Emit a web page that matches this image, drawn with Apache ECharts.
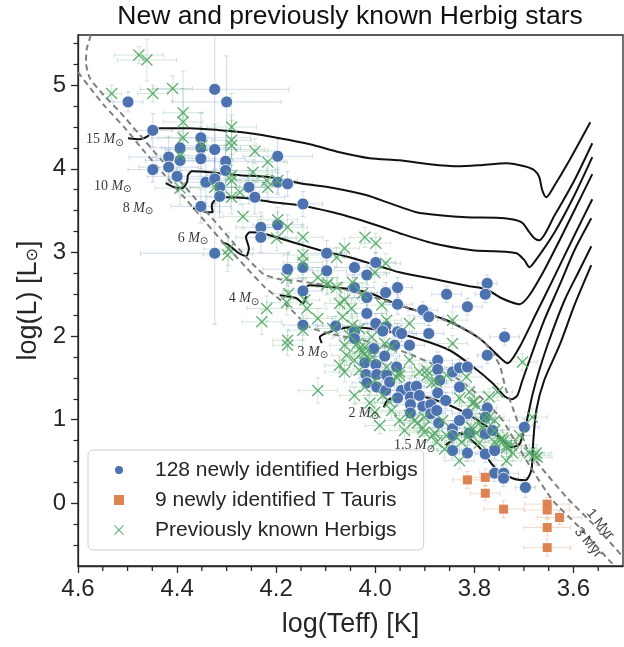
<!DOCTYPE html>
<html>
<head>
<meta charset="utf-8">
<script src="https://cdn.jsdelivr.net/npm/echarts@6/dist/echarts.min.js"></script>
<style>
  html, body { margin: 0; padding: 0; background: #fff; }
  #chart { width: 624px; height: 647px; }
</style>
</head>
<body>
<div id="chart"></div>
<script>
// tick positions
var xTicks = [3.6, 3.8, 4.0, 4.2, 4.4, 4.6];
var xMinorTicks = [3.55, 3.65, 3.7, 3.75, 3.85, 3.9, 3.95, 4.05, 4.1, 4.15, 4.25, 4.3, 4.35, 4.45, 4.5, 4.55];
var yTicks = [0, 1, 2, 3, 4, 5];
var yMinorTicks = [-0.5, -0.25, 0.25, 0.5, 0.75, 1.25, 1.5, 1.75, 2.25, 2.5, 2.75, 3.25, 3.5, 3.75, 4.25, 4.5, 4.75, 5.25, 5.5];

// [logTeff, logL, err logTeff, err logL]
var newHerbigs = [
  [4.499, 4.80, 0.03, 0.12], [4.324, 4.95, 0.15, 0.95], [4.300, 4.80, 0.11, 0.55], [4.449, 4.46, 0.04, 0.20],
  [4.352, 4.37, 0.10, 0.30], [4.352, 4.25, 0.08, 0.25], [4.324, 4.23, 0.10, 0.30], [4.394, 4.25, 0.06, 0.20],
  [4.417, 4.14, 0.08, 0.25], [4.394, 4.10, 0.07, 0.20], [4.352, 4.12, 0.09, 0.30], [4.302, 4.09, 0.12, 0.35],
  [4.302, 3.98, 0.10, 0.30], [4.449, 3.99, 0.05, 0.15], [4.417, 4.02, 0.06, 0.20], [4.400, 3.91, 0.06, 0.20],
  [4.197, 4.15, 0.07, 0.20], [4.342, 3.84, 0.08, 0.25], [4.324, 3.88, 0.09, 0.30], [4.314, 3.78, 0.09, 0.30],
  [4.314, 3.67, 0.08, 0.25], [4.255, 3.78, 0.06, 0.20], [4.243, 3.66, 0.06, 0.20], [4.197, 3.84, 0.05, 0.15],
  [4.177, 3.82, 0.05, 0.15], [4.352, 3.55, 0.06, 0.20], [4.146, 3.58, 0.04, 0.15], [4.231, 3.30, 0.05, 0.18],
  [4.231, 3.18, 0.05, 0.18], [4.197, 3.33, 0.05, 0.15], [4.324, 2.99, 0.15, 0.85], [4.177, 2.80, 0.05, 0.20],
  [4.146, 2.82, 0.04, 0.15], [4.098, 2.99, 0.04, 0.15], [4.098, 2.78, 0.04, 0.12], [4.042, 2.82, 0.04, 0.12],
  [3.999, 2.88, 0.04, 0.12], [4.017, 2.73, 0.04, 0.12], [3.955, 2.58, 0.03, 0.12], [3.979, 2.52, 0.03, 0.12],
  [4.042, 2.58, 0.04, 0.12], [4.146, 2.54, 0.04, 0.15], [3.856, 2.50, 0.03, 0.10], [3.774, 2.63, 0.02, 0.10],
  [3.778, 2.50, 0.02, 0.10], [3.814, 2.35, 0.03, 0.10], [3.955, 2.38, 0.03, 0.12], [4.017, 2.46, 0.04, 0.12],
  [3.904, 2.31, 0.03, 0.10], [3.892, 2.23, 0.03, 0.10], [4.017, 2.27, 0.04, 0.12], [4.146, 2.13, 0.04, 0.12],
  [4.080, 2.12, 0.04, 0.12], [4.042, 2.05, 0.03, 0.12], [3.999, 2.15, 0.03, 0.12], [3.979, 2.11, 0.03, 0.10],
  [3.985, 2.06, 0.03, 0.10], [3.955, 2.05, 0.03, 0.10], [3.892, 2.03, 0.03, 0.10], [4.042, 1.97, 0.03, 0.10],
  [3.931, 1.89, 0.03, 0.10], [3.739, 1.99, 0.03, 0.10], [3.774, 1.77, 0.02, 0.10], [3.874, 1.71, 0.03, 0.10],
  [3.874, 1.60, 0.03, 0.09], [3.844, 1.57, 0.03, 0.10], [3.830, 1.62, 0.03, 0.10], [3.814, 1.63, 0.03, 0.10],
  [4.003, 1.85, 0.03, 0.10], [3.981, 1.76, 0.03, 0.10], [4.021, 1.68, 0.03, 0.10], [3.999, 1.66, 0.03, 0.10],
  [3.957, 1.63, 0.03, 0.10], [4.019, 1.54, 0.03, 0.10], [3.997, 1.54, 0.03, 0.10], [3.977, 1.53, 0.03, 0.10],
  [4.017, 1.44, 0.03, 0.10], [3.997, 1.39, 0.03, 0.10], [3.979, 1.35, 0.03, 0.10], [3.947, 1.35, 0.03, 0.10],
  [3.931, 1.39, 0.03, 0.10], [3.917, 1.40, 0.03, 0.10], [3.830, 1.39, 0.03, 0.10], [3.874, 1.32, 0.03, 0.10],
  [3.929, 1.27, 0.03, 0.10], [3.929, 1.18, 0.03, 0.10], [3.929, 1.08, 0.03, 0.10], [3.904, 1.16, 0.03, 0.10],
  [3.888, 1.18, 0.03, 0.10], [3.888, 1.07, 0.03, 0.10], [3.876, 1.11, 0.03, 0.10], [3.872, 0.96, 0.03, 0.10],
  [3.814, 1.07, 0.03, 0.10], [3.774, 1.14, 0.02, 0.10], [3.778, 1.03, 0.02, 0.10], [3.699, 0.91, 0.03, 0.10],
  [3.844, 0.89, 0.03, 0.10], [3.844, 0.81, 0.03, 0.10], [3.778, 0.83, 0.02, 0.10], [3.763, 0.87, 0.02, 0.10],
  [3.844, 0.63, 0.03, 0.10], [3.814, 0.60, 0.03, 0.10], [3.778, 0.59, 0.02, 0.10], [3.759, 0.63, 0.02, 0.10],
  [3.759, 0.36, 0.03, 0.10], [3.741, 0.36, 0.03, 0.10], [3.741, 0.30, 0.03, 0.10], [3.697, 0.19, 0.02, 0.12],
  [3.947, 2.03, 0.03, 0.10], [3.971, 1.45, 0.03, 0.10], [3.955, 1.26, 0.03, 0.10], [3.911, 1.29, 0.03, 0.10],
  [3.858, 1.23, 0.03, 0.10], [3.830, 0.99, 0.03, 0.10], [3.810, 0.84, 0.03, 0.10], [3.870, 1.47, 0.03, 0.10],
  [3.961, 1.89, 0.03, 0.10]
];

var newTTauris = [
  [3.814, 0.28, 0.03, 0.10], [3.778, 0.31, 0.03, 0.10], [3.778, 0.12, 0.03, 0.09],
  [3.741, -0.07, 0.04, 0.10], [3.653, -0.01, 0.045, 0.08], [3.653, -0.08, 0.045, 0.10],
  [3.628, -0.17, 0.045, 0.08], [3.653, -0.29, 0.047, 0.10], [3.653, -0.53, 0.047, 0.10]
];

var knownHerbigs = [
  [4.477, 5.36, 0.05, 0.10], [4.461, 5.30, 0.06, 0.25], [4.532, 4.90, 0.02, 0.10], [4.449, 4.90, 0.03, 0.10],
  [4.409, 4.96, 0.04, 0.15], [4.388, 4.67, 0.04, 0.50], [4.388, 4.56, 0.04, 0.40], [4.388, 4.37, 0.05, 0.30],
  [4.350, 4.28, 0.05, 0.20], [4.394, 4.16, 0.05, 0.20], [4.290, 4.50, 0.05, 0.40], [4.290, 4.34, 0.04, 0.30],
  [4.290, 4.28, 0.05, 0.30], [4.243, 4.21, 0.04, 0.15], [4.217, 4.08, 0.04, 0.15], [4.290, 3.92, 0.05, 0.25],
  [4.290, 3.86, 0.05, 0.25], [4.247, 3.96, 0.04, 0.15], [4.219, 3.86, 0.04, 0.15], [4.197, 3.86, 0.04, 0.15],
  [4.217, 3.78, 0.04, 0.15], [4.324, 3.78, 0.05, 0.20], [4.394, 3.77, 0.05, 0.20], [4.273, 3.72, 0.04, 0.15],
  [4.290, 3.66, 0.05, 0.20], [4.267, 3.43, 0.04, 0.15], [4.197, 3.39, 0.04, 0.15], [4.177, 3.30, 0.04, 0.15],
  [4.199, 3.17, 0.04, 0.15], [4.296, 3.04, 0.05, 0.20], [4.298, 2.97, 0.05, 0.20], [4.146, 3.18, 0.04, 0.15],
  [4.146, 2.97, 0.04, 0.15], [4.146, 2.88, 0.04, 0.15], [4.062, 3.05, 0.03, 0.12], [4.078, 2.94, 0.03, 0.12],
  [4.021, 3.18, 0.03, 0.12], [3.999, 3.11, 0.03, 0.12], [3.979, 2.87, 0.03, 0.12], [4.116, 2.70, 0.04, 0.12],
  [4.001, 2.76, 0.03, 0.12], [4.179, 2.69, 0.04, 0.15], [4.096, 2.63, 0.03, 0.12], [4.179, 2.40, 0.04, 0.15],
  [4.138, 2.33, 0.04, 0.12], [4.219, 2.33, 0.04, 0.15], [4.229, 2.17, 0.04, 0.15], [4.146, 2.07, 0.03, 0.12],
  [4.116, 2.21, 0.03, 0.12], [4.177, 1.95, 0.03, 0.12], [4.177, 1.89, 0.03, 0.12], [4.116, 1.35, 0.04, 0.15],
  [4.142, 2.43, 0.03, 0.12], [4.175, 2.51, 0.03, 0.12], [4.062, 2.43, 0.03, 0.12], [4.048, 2.33, 0.03, 0.12],
  [4.046, 2.13, 0.03, 0.12], [4.058, 1.77, 0.03, 0.12], [4.062, 1.57, 0.04, 0.12], [4.032, 1.85, 0.03, 0.10],
  [4.026, 1.81, 0.02, 0.10], [4.017, 1.75, 0.03, 0.10], [4.005, 1.75, 0.03, 0.08], [4.007, 1.99, 0.03, 0.10],
  [3.987, 2.37, 0.03, 0.10], [4.078, 2.58, 0.03, 0.12], [3.977, 2.19, 0.03, 0.10], [3.967, 1.87, 0.03, 0.10],
  [3.977, 1.63, 0.02, 0.10], [4.098, 2.61, 0.03, 0.12], [4.046, 2.64, 0.03, 0.12], [4.026, 2.51, 0.03, 0.12],
  [4.072, 2.39, 0.03, 0.12], [4.066, 2.23, 0.03, 0.12], [4.086, 2.09, 0.03, 0.12], [4.032, 2.09, 0.03, 0.10],
  [4.036, 1.91, 0.03, 0.10], [3.981, 1.91, 0.03, 0.10], [4.021, 1.87, 0.02, 0.10], [4.021, 1.79, 0.03, 0.08],
  [3.951, 1.57, 0.03, 0.10], [3.951, 1.53, 0.03, 0.10], [4.032, 1.59, 0.04, 0.10], [4.021, 1.39, 0.03, 0.10],
  [3.985, 1.29, 0.03, 0.10], [4.011, 1.20, 0.03, 0.10], [4.001, 1.09, 0.03, 0.12], [3.971, 1.21, 0.03, 0.10],
  [3.931, 1.71, 0.03, 0.10], [3.896, 1.59, 0.03, 0.10], [3.886, 1.44, 0.03, 0.10], [3.856, 1.53, 0.03, 0.10],
  [3.830, 1.26, 0.03, 0.10], [3.810, 1.33, 0.03, 0.10], [3.800, 1.21, 0.03, 0.10], [3.780, 1.02, 0.03, 0.10],
  [3.806, 0.91, 0.03, 0.10], [3.796, 0.84, 0.03, 0.10], [3.814, 0.79, 0.03, 0.10], [3.759, 0.87, 0.03, 0.10],
  [3.749, 0.75, 0.03, 0.10], [3.735, 0.69, 0.03, 0.10], [3.723, 0.60, 0.03, 0.10], [3.844, 2.19, 0.03, 0.10],
  [3.844, 1.91, 0.03, 0.10], [3.957, 1.51, 0.03, 0.10], [3.901, 1.03, 0.03, 0.10], [3.864, 0.99, 0.03, 0.10],
  [3.856, 0.81, 0.03, 0.10], [3.876, 0.73, 0.03, 0.10], [3.884, 0.81, 0.03, 0.10], [3.826, 0.73, 0.03, 0.10],
  [3.683, 1.03, 0.03, 0.10], [3.703, 1.69, 0.03, 0.10], [3.675, 0.60, 0.03, 0.10], [3.904, 0.90, 0.03, 0.10],
  [3.921, 0.99, 0.03, 0.10], [3.931, 1.05, 0.03, 0.10], [3.931, 2.15, 0.03, 0.10], [3.911, 1.57, 0.03, 0.10],
  [3.895, 1.53, 0.03, 0.10], [3.876, 1.45, 0.03, 0.10], [3.816, 1.51, 0.03, 0.10], [3.770, 1.27, 0.03, 0.10],
  [3.804, 1.20, 0.03, 0.10], [3.759, 0.99, 0.03, 0.10], [3.790, 0.96, 0.03, 0.10], [3.810, 0.85, 0.03, 0.10],
  [3.741, 0.75, 0.03, 0.10], [3.689, 0.60, 0.03, 0.10], [3.836, 0.79, 0.03, 0.10], [3.915, 0.96, 0.03, 0.10],
  [3.901, 0.85, 0.03, 0.10], [3.880, 0.84, 0.03, 0.10], [3.830, 0.51, 0.03, 0.10], [3.860, 0.65, 0.03, 0.10],
  [3.735, 0.51, 0.03, 0.10], [3.735, 0.66, 0.03, 0.10], [3.759, 0.73, 0.03, 0.10], [3.679, 0.57, 0.03, 0.10],
  [3.790, 0.72, 0.03, 0.10], [3.709, 0.81, 0.03, 0.10], [3.753, 1.33, 0.03, 0.10], [3.673, 0.55, 0.03, 0.10],
  [3.770, 1.03, 0.03, 0.10], [3.784, 0.90, 0.03, 0.10], [3.743, 0.78, 0.03, 0.10], [3.725, 0.69, 0.03, 0.10],
  [3.796, 1.17, 0.03, 0.10], [4.052, 2.01, 0.03, 0.10], [4.062, 1.89, 0.03, 0.10], [4.042, 1.71, 0.03, 0.10],
  [4.072, 1.65, 0.03, 0.10], [4.001, 1.47, 0.03, 0.10], [4.042, 1.29, 0.03, 0.10], [3.967, 1.11, 0.03, 0.10],
  [3.951, 0.99, 0.03, 0.10], [3.941, 0.87, 0.03, 0.10], [3.991, 0.93, 0.03, 0.10]
];

// evolutionary tracks [logTeff, logL]
var track15 = [[3.566,4.557],[3.608,4.103],[3.638,3.804],[3.655,3.660],[3.663,3.744],[3.669,3.899],[3.679,3.983],[3.699,4.031],[3.735,4.067],[3.790,4.043],[3.830,4.031],[3.890,4.055],[3.951,4.103],[4.011,4.127],[4.072,4.199],[4.132,4.294],[4.193,4.366],[4.253,4.426],[4.314,4.462],[4.374,4.486],[4.435,4.486],[4.449,4.462],[4.459,4.390],[4.475,4.354],[4.499,4.366]];
var track10 = [[3.562,4.306],[3.598,3.864],[3.638,3.445],[3.669,3.146],[3.679,3.170],[3.689,3.242],[3.705,3.361],[3.739,3.409],[3.816,3.421],[3.870,3.445],[3.917,3.481],[3.971,3.589],[4.017,3.684],[4.082,3.768],[4.152,3.828],[4.213,3.900],[4.273,3.924],[4.334,3.959],[4.370,3.971],[4.378,3.924],[4.380,3.840],[4.390,3.768],[4.406,3.780],[4.423,3.828]];
var track8 = [[3.562,4.139],[3.598,3.684],[3.638,3.242],[3.679,2.883],[3.689,2.823],[3.699,2.907],[3.715,2.990],[3.759,3.014],[3.804,3.026],[3.884,3.110],[3.951,3.230],[3.985,3.301],[4.042,3.409],[4.086,3.481],[4.152,3.565],[4.207,3.600],[4.259,3.648],[4.310,3.660],[4.326,3.612],[4.330,3.553],[4.328,3.481],[4.340,3.481],[4.354,3.505],[4.368,3.529]];
var track6 = [[3.562,3.936],[3.598,3.505],[3.628,3.146],[3.659,2.787],[3.689,2.488],[3.709,2.380],[3.725,2.404],[3.749,2.464],[3.776,2.560],[3.810,2.596],[3.870,2.668],[3.951,2.763],[3.985,2.823],[4.052,2.943],[4.112,3.026],[4.173,3.134],[4.229,3.230],[4.253,3.242],[4.261,3.182],[4.255,3.050],[4.261,2.955],[4.278,3.002],[4.298,3.098],[4.310,3.122]];
var track4 = [[3.562,3.636],[3.598,3.206],[3.642,2.668],[3.675,2.273],[3.709,1.866],[3.733,1.675],[3.749,1.746],[3.790,1.974],[3.856,2.189],[3.951,2.369],[4.017,2.524],[4.086,2.584],[4.132,2.608],[4.142,2.572],[4.140,2.476],[4.146,2.392],[4.159,2.452],[4.179,2.476],[4.193,2.488]];
var track3 = [[3.564,3.409],[3.598,3.026],[3.628,2.608],[3.659,2.189],[3.685,1.770],[3.703,1.471],[3.713,1.292],[3.725,1.244],[3.739,1.280],[3.763,1.435],[3.804,1.639],[3.850,1.830],[3.917,1.974],[3.985,2.069],[4.052,2.105],[4.080,2.069],[4.100,2.033],[4.112,1.986],[4.108,1.914]];
var track2 = [[3.564,3.074],[3.588,2.787],[3.618,2.428],[3.649,1.950],[3.669,1.591],[3.683,1.292],[3.693,1.017],[3.701,0.849],[3.709,0.706],[3.725,0.670],[3.749,0.789],[3.776,0.921],[3.810,1.053],[3.850,1.172],[3.890,1.256],[3.931,1.304],[3.955,1.280],[3.975,1.232],[3.983,1.148]];
var track1p5 = [[3.564,2.847],[3.598,2.369],[3.628,1.890],[3.659,1.471],[3.675,1.113],[3.681,0.754],[3.685,0.395],[3.697,0.275],[3.723,0.299],[3.759,0.431],[3.790,0.670],[3.830,0.837],[3.846,0.754],[3.858,0.694]];

// isochrones
var iso1Myr = [[4.574,5.598],[4.582,5.443],[4.584,5.275],[4.576,5.084],[4.548,4.880],[4.515,4.677],[4.473,4.390],[4.433,4.115],[4.392,3.840],[4.352,3.565],[4.312,3.290],[4.273,3.026],[4.245,2.847],[4.225,2.739],[4.193,2.680],[4.152,2.656],[4.092,2.596],[4.032,2.512],[3.951,2.369],[3.870,2.213],[3.810,2.057],[3.774,1.890],[3.749,1.651],[3.737,1.376],[3.723,1.148],[3.709,0.909],[3.695,0.670],[3.669,0.455],[3.614,0.072],[3.554,-0.287],[3.501,-0.634]];
var iso3Myr = [[4.600,5.156],[4.572,4.940],[4.546,4.749],[4.505,4.486],[4.465,4.199],[4.425,3.924],[4.384,3.648],[4.344,3.373],[4.304,3.098],[4.263,2.835],[4.223,2.584],[4.179,2.369],[4.132,2.105],[4.086,2.022],[4.017,1.938],[3.951,1.830],[3.870,1.627],[3.816,1.412],[3.776,1.208],[3.743,0.993],[3.719,0.754],[3.689,0.455],[3.642,0.036],[3.588,-0.287],[3.528,-0.682],[3.515,-0.754]];

var massLabels = [[4.546,4.35,'15'],[4.530,3.79,'10'],[4.479,3.53,'8'],[4.368,3.17,'6'],[4.265,2.45,'4'],[4.126,1.81,'3'],[4.023,1.08,'2'],[3.921,0.69,'1.5']];
var ageLabels = [[3.546,-0.25,'1 Myr'],[3.570,-0.47,'3 Myr']];

var myChart = echarts.init(document.getElementById('chart'));
var font = 'Liberation Sans, Arial, sans-serif';
var dark = '#262626';
var crossPath = 'path://M0,1L1,0L6,5L11,0L12,1L7,6L12,11L11,12L6,7L1,12L0,11L5,6Z';
var yMin = -0.75, yMax = 5.6;

// error bars with little caps
function errorBars(data, color) {
    return {
        type: 'custom',
        data: data,
        encode: { x: 0, y: 1 },
        clip: true,
        silent: true,
        z: 1,
        renderItem: function (params, api) {
            var x = api.value(0), y = api.value(1), ex = api.value(2), ey = api.value(3);
            var c = api.coord([x, y]);
            var a = api.coord([x + ex, y]);
            var b = api.coord([x - ex, y]);
            var t = api.coord([x, y + ey]);
            var d = api.coord([x, y - ey]);
            var cap = 2.5;
            var st = { stroke: color, lineWidth: 1 };
            function seg(x1, y1, x2, y2) {
                return { type: 'line', shape: { x1: x1, y1: y1, x2: x2, y2: y2 }, style: st };
            }
            return {
                type: 'group',
                children: [
                    seg(a[0], c[1], b[0], c[1]),
                    seg(c[0], t[1], c[0], d[1]),
                    seg(a[0], c[1] - cap, a[0], c[1] + cap),
                    seg(b[0], c[1] - cap, b[0], c[1] + cap),
                    seg(c[0] - cap, t[1], c[0] + cap, t[1]),
                    seg(c[0] - cap, d[1], c[0] + cap, d[1])
                ]
            };
        }
    };
}

function trackLine(data) {
    return {
        type: 'line', data: data, showSymbol: false, smooth: 0.25, silent: true, z: 2,
        lineStyle: { color: '#111', width: 2 }
    };
}
function isoLine(data) {
    return {
        type: 'line', data: data, showSymbol: false, smooth: 0.2, silent: true, z: 2,
        lineStyle: { color: '#808080', width: 2, type: [6, 4] }
    };
}
function xy(d) { return [d[0], d[1]]; }

var option = {
    animation: false,
    title: {
        text: 'New and previously known Herbig stars',
        left: 350, top: 3, textAlign: 'center', padding: 0,
        textStyle: { fontFamily: font, fontSize: 26.5, fontWeight: 'normal', color: '#111' }
    },
    grid: {
        left: 78, right: 1, top: 35, bottom: 81,
        show: true, borderColor: dark, borderWidth: 1.3, backgroundColor: 'transparent'
    },
    legend: {
        orient: 'vertical', left: 88, top: 450,
        padding: [8, 6, 8, 25], itemGap: 6, itemWidth: 10, itemHeight: 10,
        backgroundColor: 'rgba(255,255,255,0.85)', borderColor: '#d0d0d0', borderWidth: 1, borderRadius: 5,
        textStyle: { fontFamily: font, fontSize: 21, color: dark, lineHeight: 24, padding: [0, 0, 0, 26] },
        data: [
            { name: '128 newly identified Herbigs', icon: 'circle' },
            { name: '9 newly identified T Tauris', icon: 'rect' },
            { name: 'Previously known Herbigs', icon: crossPath }
        ]
    },
    xAxis: {
        type: 'value', min: 3.5, max: 4.6, inverse: true,
        name: 'log(Teff) [K]', nameLocation: 'middle', nameGap: 45,
        nameTextStyle: { fontFamily: font, fontSize: 27, color: dark },
        axisLine: { show: true, onZero: false, lineStyle: { color: dark, width: 1.3 } },
        axisTick: { show: true, customValues: xTicks, length: 7, lineStyle: { color: dark, width: 1.3 } },
        axisLabel: { customValues: xTicks, margin: 11, fontFamily: font, fontSize: 24, color: dark,
            formatter: function (v) { return v.toFixed(1); } },
        splitLine: { show: false }
    },
    yAxis: [{
        type: 'value', min: yMin, max: yMax,
        name: 'log(L) [L{s|⊙}]', nameLocation: 'middle', nameGap: 36,
        nameTextStyle: { fontFamily: font, fontSize: 27, color: dark,
            rich: { s: { fontFamily: 'DejaVu Sans', fontSize: 16, color: dark, padding: [10, 0, 0, 0] } } },
        axisLine: { show: true, onZero: false, lineStyle: { color: dark, width: 1.3 } },
        axisTick: { show: true, customValues: yTicks, length: 7, lineStyle: { color: dark, width: 1.3 } },
        axisLabel: { customValues: yTicks, margin: 12, fontFamily: font, fontSize: 24, color: dark },
        splitLine: { show: false }
    }, {
        type: 'value', min: yMin, max: yMax, position: 'left',
        axisLine: { show: false, onZero: false },
        axisTick: { show: true, customValues: yMinorTicks, length: 4.5, lineStyle: { color: dark, width: 1.2 } },
        axisLabel: { show: false },
        splitLine: { show: false }
    }],
    series: [
        errorBars(newHerbigs, 'rgba(76,114,176,0.25)'),
        errorBars(newTTauris, 'rgba(221,132,82,0.3)'),
        errorBars(knownHerbigs, 'rgba(85,168,104,0.25)'),
        trackLine(track15), trackLine(track10), trackLine(track8), trackLine(track6),
        trackLine(track4), trackLine(track3), trackLine(track2), trackLine(track1p5),
        isoLine(iso1Myr), isoLine(iso3Myr),
        {
            name: '128 newly identified Herbigs', type: 'scatter', z: 3,
            data: newHerbigs.map(xy), symbol: 'circle', symbolSize: 12,
            itemStyle: { color: '#4C72B0', borderColor: '#fff', borderWidth: 0.8, opacity: 1 }
        },
        {
            name: '9 newly identified T Tauris', type: 'scatter', z: 3,
            data: newTTauris.map(xy), symbol: 'rect', symbolSize: 9,
            itemStyle: { color: '#DD8452', opacity: 1 }
        },
        {
            name: 'Previously known Herbigs', type: 'scatter', z: 4,
            data: knownHerbigs.map(xy), symbol: crossPath, symbolSize: 12,
            itemStyle: { color: '#55A868', opacity: 0.9 }
        },
        {
            type: 'scatter', z: 5, silent: true, symbolSize: 1, itemStyle: { color: 'transparent' },
            data: massLabels.map(function (m) { return { value: [m[0], m[1]], name: m[2] }; }),
            label: {
                show: true, position: 'inside', color: '#000',
                fontFamily: 'Liberation Serif', fontSize: 14,
                formatter: function (p) { return p.name + ' {m|M}{s|⊙}'; },
                rich: {
                    m: { fontFamily: 'Liberation Serif', fontStyle: 'italic', fontSize: 14, color: '#000' },
                    s: { fontFamily: 'DejaVu Sans', fontSize: 10, color: '#000', padding: [7, 0, 0, 0] }
                }
            }
        },
        {
            type: 'scatter', z: 5, silent: true, symbolSize: 1, itemStyle: { color: 'transparent' },
            data: ageLabels.map(function (m) { return { value: [m[0], m[1]], name: m[2] }; }),
            label: {
                show: true, position: 'inside', rotate: -50, color: '#111',
                fontFamily: font, fontSize: 14,
                formatter: function (p) { return p.name; }
            }
        }
    ]
};

myChart.setOption(option);

// minor ticks under the x axis, placed through the axis scale
var yBase = myChart.convertToPixel({ yAxisIndex: 0 }, yMin);
myChart.setOption({
    graphic: xMinorTicks.map(function (v) {
        var px = myChart.convertToPixel({ xAxisIndex: 0 }, v);
        return {
            type: 'line', silent: true, z: 10,
            shape: { x1: px, y1: yBase, x2: px, y2: yBase + 5 },
            style: { stroke: dark, lineWidth: 1.3 }
        };
    })
});

window.addEventListener('resize', function () {
    myChart.resize();
});
</script>
</body>
</html>
